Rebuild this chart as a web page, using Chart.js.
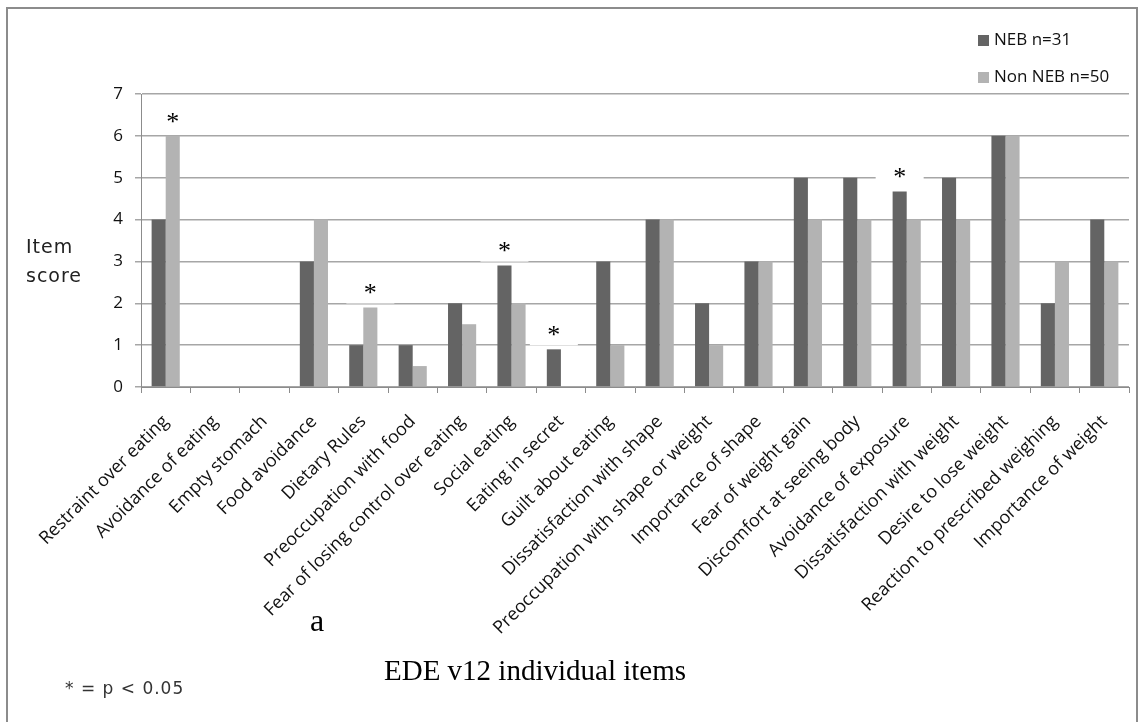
<!DOCTYPE html>
<html>
<head>
<meta charset="utf-8">
<script src="https://cdn.jsdelivr.net/npm/chart.js@4/dist/chart.umd.min.js"></script>
<style>
    html, body { margin: 0; padding: 0; background: #fff; }
    #wrap { position: relative; width: 1138px; height: 722px; }
</style>
</head>
<body>
<div id="wrap"><canvas id="bar-chart" width="1138" height="722"></canvas></div>
<script>
// EDE v12 items
const items = [
    'Restraint over eating', 'Avoidance of eating', 'Empty stomach', 'Food avoidance',
    'Dietary Rules', 'Preoccupation with food', 'Fear of losing control over eating',
    'Social eating', 'Eating in secret', 'Guilt about eating', 'Dissatisfaction with shape',
    'Preoccupation with shape or weight', 'Importance of shape', 'Fear of weight gain',
    'Discomfort at seeing body', 'Avoidance of exposure', 'Dissatisfaction with weight',
    'Desire to lose weight', 'Reaction to prescribed weighing', 'Importance of weight'
];
const nebScores = [4, 0, 0, 3, 1, 1, 2, 2.9, 0.9, 3, 4, 2, 3, 5, 5, 4.67, 5, 6, 2, 4];
const nonNebScores = [6, 0, 0, 4, 1.9, 0.5, 1.5, 2, 0, 1, 4, 1, 3, 4, 4, 4, 4, 6, 3, 3];
// items with p < 0.05
const significant = [0, 4, 7, 8, 15];
const yTicks = [0, 1, 2, 3, 4, 5, 6, 7];

const sansFont = "'Open Sans', sans-serif";
const wideFont = "'DejaVu Sans', sans-serif";
const serifFont = "'Liberation Serif', 'DejaVu Serif', serif";

const extras = {
    id: 'extras',
    beforeDraw(chart) {
        const ctx = chart.ctx;
        ctx.save();
        // outer frame
        ctx.strokeStyle = '#8c8c8c';
        ctx.lineWidth = 2;
        ctx.beginPath();
        ctx.moveTo(7, 722);
        ctx.lineTo(7, 8);
        ctx.lineTo(1137, 8);
        ctx.lineTo(1137, 722);
        ctx.stroke();
        ctx.restore();
    },
    afterDatasetsDraw(chart) {
        const ctx = chart.ctx;
        const y = chart.scales.y;
        ctx.save();
        // asterisks with a white box behind
        significant.forEach(function (i) {
            const a = nebScores[i], b = nonNebScores[i];
            const ds = a >= b ? 0 : 1;
            const bar = chart.getDatasetMeta(ds).data[i];
            const top = y.getPixelForValue(Math.max(a, b));
            ctx.fillStyle = '#ffffff';
            ctx.fillRect(bar.x - 24, top - 34, 48, 30);
            ctx.fillStyle = '#000';
            ctx.font = "26px " + serifFont;
            ctx.textAlign = 'center';
            ctx.textBaseline = 'middle';
            ctx.fillText('*', bar.x, top - 13);
        });
        ctx.restore();
    },
    afterDraw(chart) {
        const ctx = chart.ctx;
        ctx.save();
        // legend, stacked at top right
        chart.data.datasets.forEach(function (d, k) {
            const ly = 40 + k * 37;
            ctx.fillStyle = d.backgroundColor;
            ctx.fillRect(978, ly - 5, 11, 11);
            ctx.fillStyle = '#111';
            ctx.font = "17px " + sansFont;
            ctx.textAlign = 'left';
            ctx.textBaseline = 'middle';
            ctx.fillText(d.label, 994, ly);
        });
        // axis caption
        ctx.fillStyle = '#222';
        ctx.font = "19px " + wideFont;
        ctx.letterSpacing = '1px';
        ctx.fillText('Item', 26, 248);
        ctx.fillText('score', 26, 277);
        // footnote
        ctx.fillStyle = '#333';
        ctx.font = "17px " + wideFont;
        ctx.fillText('* = p < 0.05', 65, 690);
        ctx.letterSpacing = '0px';
        // panel letter and x title
        ctx.fillStyle = '#000';
        ctx.font = "32px " + serifFont;
        ctx.textAlign = 'center';
        ctx.fillText('a', 317, 623);
        ctx.font = "29px " + serifFont;
        ctx.fillText('EDE v12 individual items', 535, 672);
        ctx.restore();
    }
};

new Chart(document.getElementById('bar-chart').getContext('2d'), {
    type: 'bar',
    data: {
        labels: items,
        datasets: [{
            label: 'NEB n=31',
            data: nebScores,
            backgroundColor: '#646464',
            categoryPercentage: 0.57,
            barPercentage: 1
        }, {
            label: 'Non NEB n=50',
            data: nonNebScores,
            backgroundColor: '#b3b3b3',
            categoryPercentage: 0.57,
            barPercentage: 1
        }]
    },
    options: {
        responsive: false,
        animation: false,
        layout: { padding: { top: 94, right: 9, left: 0, bottom: 0 } },
        plugins: {
            legend: { display: false },
            tooltip: { enabled: false }
        },
        scales: {
            x: {
                afterFit: function (s) { s.height = 335; },
                grid: {
                    drawOnChartArea: false,
                    drawTicks: true,
                    tickLength: 6,
                    color: '#8c8c8c'
                },
                border: { color: '#8c8c8c' },
                ticks: {
                    autoSkip: false,
                    maxRotation: 45,
                    minRotation: 45,
                    padding: 18,
                    color: '#111',
                    font: { family: 'Open Sans', size: 18 }
                }
            },
            y: {
                min: 0,
                max: 7,
                afterFit: function (s) { s.width = 141; },
                afterBuildTicks: function (s) { s.ticks = yTicks.map(function (v) { return { value: v }; }); },
                grid: {
                    color: '#a6a6a6',
                    lineWidth: 1.5,
                    tickLength: 6
                },
                border: { color: '#8c8c8c' },
                ticks: {
                    padding: 12,
                    color: '#111',
                    font: { family: 'Open Sans', size: 17 }
                }
            }
        }
    },
    plugins: [extras]
});
</script>
</body>
</html>
